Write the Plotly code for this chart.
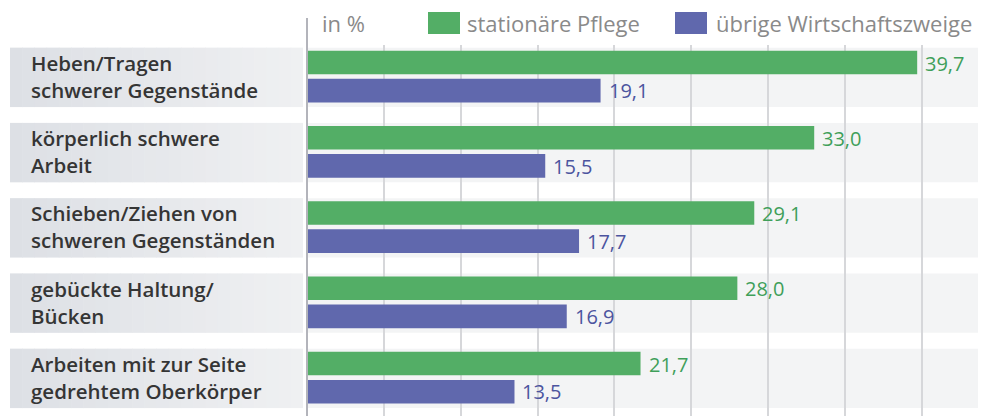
import plotly.graph_objects as go

# ---- data ----
categories = [
    "Heben/Tragen<br>schwerer Gegenstände",
    "körperlich schwere<br>Arbeit",
    "Schieben/Ziehen von<br>schweren Gegenständen",
    "gebückte Haltung/<br>Bücken",
    "Arbeiten mit zur Seite<br>gedrehtem Oberkörper",
]
pflege = [39.7, 33.0, 29.1, 28.0, 21.7]
uebrige = [19.1, 15.5, 17.7, 16.9, 13.5]
series_names = ["stationäre Pflege", "übrige Wirtschaftszweige"]
unit_label = "in %"

# ---- style ----
W, H = 986, 416
ML, MR, MT, MB = 307, 8, 45, 0
PW = W - ML - MR
PH = H - MT - MB
GREEN = "#53ae66"
BLUE = "#6068ad"
GREEN_TXT = "#3f9f5a"
BLUE_TXT = "#4c549f"
FONT = "Open Sans"

def px_x(px):
    return (px - ML) / PW

def px_y(py):
    return (H - MB - py) / PH

ypos = list(range(len(categories)))

fig = go.Figure()
fig.add_trace(go.Bar(
    y=ypos, x=pflege, orientation="h", name=series_names[0],
    marker=dict(color=GREEN, line=dict(width=0)),
    offset=-0.355, width=0.315, showlegend=False, hoverinfo="x",
))
fig.add_trace(go.Bar(
    y=ypos, x=uebrige, orientation="h", name=series_names[1],
    marker=dict(color=BLUE, line=dict(width=0)),
    offset=0.02, width=0.315, showlegend=False, hoverinfo="x",
))

shapes = []
annotations = []

# row bands
for i in ypos:
    shapes.append(dict(type="rect", xref="paper", yref="y", layer="below",
                       x0=0, x1=px_x(978), y0=i - 0.395, y1=i + 0.395,
                       fillcolor="#f3f4f5", line=dict(width=0)))
    n = 24
    x_start, x_end = 10, 303
    for k in range(n):
        t = k / (n - 1)
        c0 = (0xdd, 0xe0, 0xe5)
        c1 = (0xef, 0xf0, 0xf2)
        c = tuple(round(a + (b - a) * t) for a, b in zip(c0, c1))
        xa = x_start + (x_end - x_start) * k / n
        xb = x_start + (x_end - x_start) * (k + 1) / n + 0.6
        shapes.append(dict(type="rect", xref="paper", yref="y", layer="below",
                           x0=px_x(xa), x1=px_x(min(xb, x_end)),
                           y0=i - 0.395, y1=i + 0.395,
                           fillcolor="rgb(%d,%d,%d)" % c, line=dict(width=0)))
    annotations.append(dict(
        text=categories[i], xref="paper", yref="y", x=px_x(30), y=i,
        xanchor="left", yanchor="middle", align="left", showarrow=False,
        borderpad=0, yshift=1,
        font=dict(family=FONT, size=20.5, color="#353535", weight=600),
    ))

# value labels
for i in ypos:
    annotations.append(dict(
        text=f"{pflege[i]:.1f}".replace(".", ","), x=pflege[i], y=i - 0.19,
        xref="x", yref="y", xanchor="left", yanchor="middle", showarrow=False,
        xshift=6, font=dict(family=FONT, size=20, color=GREEN_TXT),
    ))
    annotations.append(dict(
        text=f"{uebrige[i]:.1f}".replace(".", ","), x=uebrige[i], y=i + 0.18,
        xref="x", yref="y", xanchor="left", yanchor="middle", showarrow=False,
        xshift=6, font=dict(family=FONT, size=20, color=BLUE_TXT),
    ))

# vertical axis line
shapes.append(dict(type="line", xref="paper", yref="paper", layer="above",
                   x0=0, x1=0, y0=0, y1=px_y(18),
                   line=dict(color="#b3b4bb", width=2)))

# legend + unit
annotations.append(dict(text=unit_label, xref="paper", yref="paper",
                        x=px_x(320), y=px_y(23), xanchor="left", yanchor="middle",
                        showarrow=False, font=dict(family=FONT, size=22, color="#8a8a8a")))
legend_items = [(428, 460, GREEN, 465, series_names[0]),
                (675, 707, BLUE, 714, series_names[1])]
for x0, x1, col, tx, name in legend_items:
    shapes.append(dict(type="rect", xref="paper", yref="paper",
                       x0=px_x(x0), x1=px_x(x1), y0=px_y(34), y1=px_y(12),
                       fillcolor=col, line=dict(width=0)))
    annotations.append(dict(text=name, xref="paper", yref="paper",
                            x=px_x(tx), y=px_y(23), xanchor="left", yanchor="middle",
                            showarrow=False, font=dict(family=FONT, size=22, color="#8a8a8a")))

fig.update_layout(
    width=W, height=H,
    margin=dict(l=ML, r=MR, t=MT, b=MB, pad=0),
    paper_bgcolor="white", plot_bgcolor="rgba(0,0,0,0)",
    barmode="overlay",
    separators=", ",
    xaxis=dict(range=[0, PW / 15.37], dtick=5, tick0=0, showgrid=True,
               gridcolor="#d6d7da", gridwidth=1.5, zeroline=False,
               showticklabels=False, ticks="", showline=False, fixedrange=True),
    yaxis=dict(range=[4.5, -0.43], showgrid=False, zeroline=False,
               showticklabels=False, ticks="", showline=False, fixedrange=True),
    shapes=shapes, annotations=annotations,
    showlegend=False,
)

fig.write_html("out.html",
               config={"displayModeBar": False},
               post_script="document.body.style.margin='0';document.body.style.overflow='hidden';")
